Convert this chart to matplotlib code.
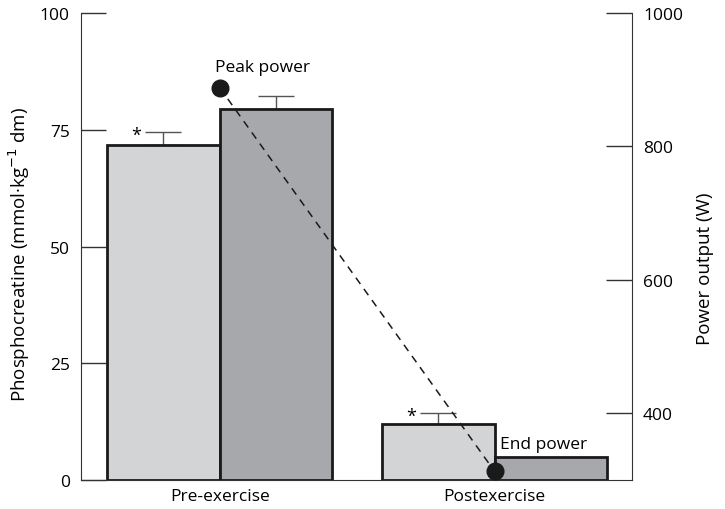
import matplotlib.pyplot as plt
import numpy as np

plt.rcParams['font.family'] = ['Open Sans', 'DejaVu Sans']

# Data
groups = ['Pre-exercise', 'Postexercise']
pcr_light = [71.7, 12.0]
pcr_dark = [79.4, 4.9]
err_light = [2.8, 2.3]
err_dark = [2.8, 0.0]
power_labels = ['Peak power', 'End power']
power_values = [888, 313]

light = '#d3d4d6'
dark = '#a7a8ab'

x = np.arange(len(groups))
w = 0.41

fig = plt.figure(figsize=(7.25, 5.1), dpi=100)
ax = fig.add_axes([0.1117, 0.0569, 0.76, 0.9156])

ax.bar(x - w / 2, pcr_light, w, color=light, edgecolor='#1a1a1a', linewidth=2, zorder=2)
ax.bar(x + w / 2, pcr_dark, w, color=dark, edgecolor='#1a1a1a', linewidth=2, zorder=2)

# upper-only error bars
for xi, v, e in zip(x - w / 2, pcr_light, err_light):
    if e > 0:
        ax.errorbar(xi, v, yerr=[[0], [e]], color='#555555', capsize=13, elinewidth=1, capthick=1, zorder=1)
for xi, v, e in zip(x + w / 2, pcr_dark, err_dark):
    if e > 0:
        ax.errorbar(xi, v, yerr=[[0], [e]], color='#555555', capsize=13, elinewidth=1, capthick=1, zorder=1)

# significance stars
for xi, v, e in zip(x - w / 2, pcr_light, err_light):
    ax.text(xi - 0.1, v + e - 0.6, '*', ha='center', va='center', fontsize=13)

ax.set_xlim(-0.505, 1.5)
ax.set_ylim(0, 100)
ax.set_yticks([0, 25, 50, 75, 100])
ax.set_xticks(x)
ax.set_xticklabels(groups, fontsize=12.5)
ax.tick_params(axis='x', length=0, pad=6)
ax.tick_params(axis='y', direction='in', length=18, width=1, labelsize=12.5, pad=8, color='#333333')
ax.set_ylabel('Phosphocreatine (mmol·kg$^{-1}$ dm)', fontsize=13.5)
ax.yaxis.set_label_coords(-0.088, 0.484)
ax.spines['top'].set_visible(False)
ax.spines['right'].set_visible(False)
ax.spines['left'].set_color('#333333')
ax.spines['bottom'].set_color('#333333')

ax2 = ax.twinx()
ax2.set_ylim(300, 1000)
ax2.set_yticks([400, 600, 800, 1000])
ax2.plot([x[0], x[1]], power_values, color='#1a1a1a', linestyle=(0, (5, 4)), linewidth=1.1,
         marker='o', markersize=12, zorder=5)
ax2.tick_params(axis='y', direction='in', length=19, width=1, labelsize=12.5, pad=8, color='#333333')
ax2.set_ylabel('Power output (W)', fontsize=13.5)
ax2.yaxis.set_label_coords(1.116, 0.454)
for s in ['top', 'left', 'bottom']:
    ax2.spines[s].set_visible(False)
ax2.spines['right'].set_color('#333333')

ax2.text(x[0] + 0.155, 919, power_labels[0], ha='center', va='center', fontsize=12.5)
ax2.text(x[1] + 0.02, 354, power_labels[1], ha='left', va='center', fontsize=12.5)

fig.savefig('out.png', dpi=100)
